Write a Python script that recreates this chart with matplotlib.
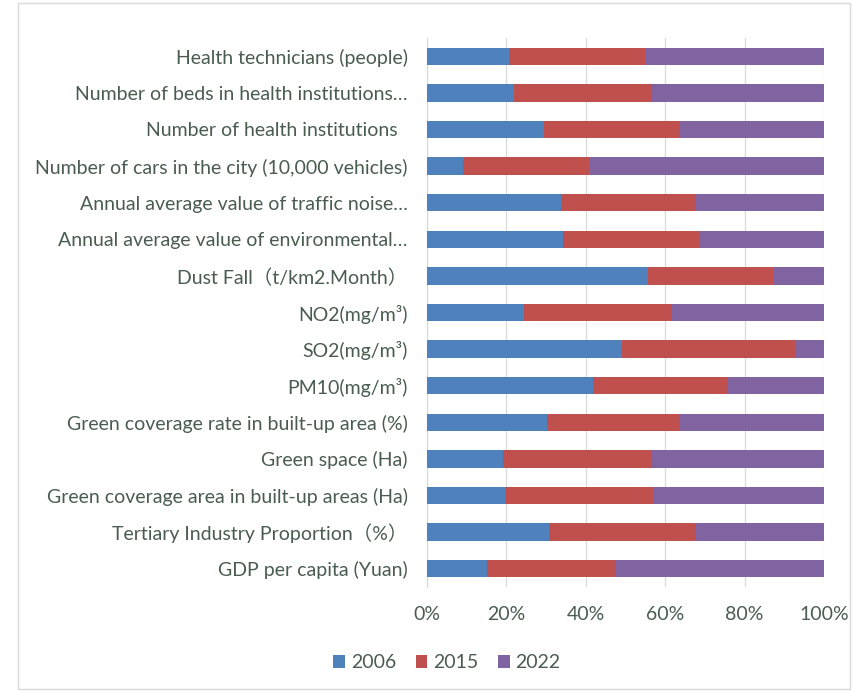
import matplotlib
matplotlib.use("Agg")
import matplotlib.pyplot as plt
from matplotlib.patches import Rectangle
from matplotlib.ticker import PercentFormatter
import numpy as np

plt.rcParams['font.family'] = ['Lato', 'Noto Sans CJK SC', 'DejaVu Sans']

# categories, bottom to top
categories = [
    "GDP per capita (Yuan)",
    "Tertiary Industry Proportion（%）",
    "Green coverage area in built-up areas (Ha)",
    "Green space (Ha)",
    "Green coverage rate in built-up area (%)",
    "PM10(mg/m³)",
    "SO2(mg/m³)",
    "NO2(mg/m³)",
    "Dust Fall（t/km2.Month）",
    "Annual average value of environmental…",
    "Annual average value of traffic noise…",
    "Number of cars in the city (10,000 vehicles)",
    "Number of health institutions  ",
    "Number of beds in health institutions…",
    "Health technicians (people)",
]

# shares in percent
y2006 = [15.0, 30.8, 19.6, 19.2, 30.2, 41.9, 49.0, 24.4, 55.7, 34.2, 33.8, 9.0, 29.5, 21.8, 20.6]
y2015 = [32.6, 36.6, 37.4, 37.5, 33.4, 33.8, 43.8, 37.0, 31.6, 34.2, 33.6, 31.8, 34.1, 34.9, 34.3]
y2022 = [52.4, 32.6, 43.0, 43.3, 36.4, 24.3, 7.2, 38.6, 12.7, 31.6, 32.6, 59.2, 36.4, 43.3, 45.1]

series = [("2006", y2006, "#4F81BD"), ("2015", y2015, "#C0504D"), ("2022", y2022, "#8064A2")]
text_color = "#4a5c50"

fig = plt.figure(figsize=(8.6, 6.91), dpi=100)
ax = fig.add_axes([427 / 860, 1 - 587 / 691, (824 - 427) / 860, (587 - 38) / 691])

pos = np.arange(len(categories))
totals = np.array(y2006) + np.array(y2015) + np.array(y2022)
left = np.zeros(len(categories))
for name, vals, color in series:
    share = np.array(vals) / totals
    ax.barh(pos, share, left=left, height=0.47, color=color, label=name, zorder=3)
    left += share

ax.set_xlim(0, 1)
ax.set_ylim(-0.5, len(categories) - 0.5)
ax.set_xticks(np.linspace(0, 1, 6))
ax.xaxis.set_major_formatter(PercentFormatter(1.0, decimals=0))
ax.set_yticks(pos)
ax.set_yticklabels(categories)
ax.tick_params(axis="both", length=0, labelsize=14, colors=text_color)
ax.tick_params(axis="x", pad=14)
ax.tick_params(axis="y", pad=14)
ax.grid(axis="x", color="#d9d9d9", linewidth=0.9, zorder=0)
for s in ["top", "right", "bottom"]:
    ax.spines[s].set_visible(False)
ax.spines["left"].set_color("#d9d9d9")

fig.legend(loc="center", bbox_to_anchor=(447 / 860, 1 - 663 / 691), ncol=3, frameon=False,
           fontsize=14, labelcolor=text_color, handlelength=0.6, handleheight=0.6,
           handletextpad=0.3, columnspacing=1.0)

fig.patches.append(Rectangle((18 / 860, 2 / 691), (850 - 18) / 860, (688 - 2) / 691,
                             transform=fig.transFigure, fill=False, edgecolor="#d9d9d9", linewidth=1))

fig.savefig("out.png", dpi=100)
